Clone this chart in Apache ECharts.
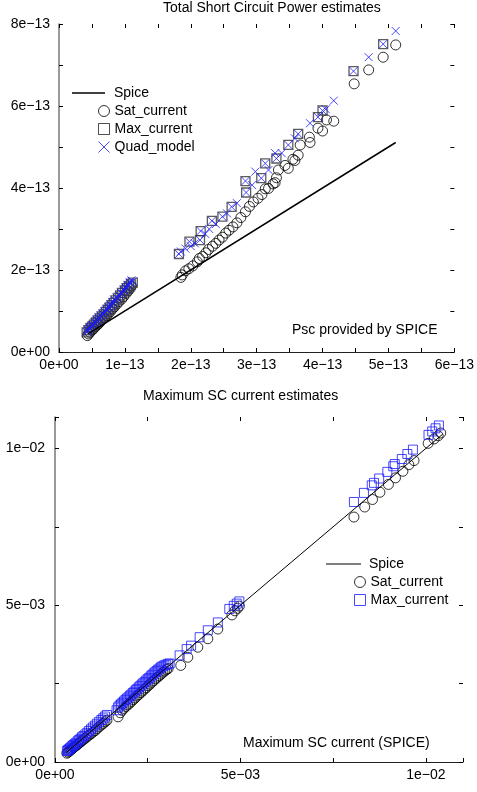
<!DOCTYPE html>
<html lang="en">
<head>
<meta charset="UTF-8">
<title>Short circuit estimates</title>
<script src="https://cdn.jsdelivr.net/npm/echarts@6/dist/echarts.min.js"></script>
<style>
  * { margin: 0; padding: 0; }
  body { background: #fff; }
  #chart { width: 477px; height: 792px; }
</style>
</head>
<body>
<div id="chart"></div>
<script>
// top chart values are in units of 1e-13 W, bottom chart in units of 1e-3 A

// tick labels
const powerXTicks = ['0e+00', '1e−13', '2e−13', '3e−13', '4e−13', '5e−13', '6e−13'];
const powerYTicks = ['0e+00', '2e−13', '4e−13', '6e−13', '8e−13'];
const currentTicks = ['0e+00', '5e−03', '1e−02'];

// --- Total short circuit power ---
const powerSpice = [[0.44, 0.44], [5.11, 5.11]];

const powerSat = [
  [0.43, 0.40], [0.45, 0.44], [0.47, 0.48], [0.50, 0.53], [0.52, 0.56], [0.55, 0.61],
  [0.58, 0.66], [0.60, 0.69], [0.63, 0.74], [0.66, 0.79], [0.69, 0.84], [0.72, 0.89],
  [0.75, 0.94], [0.78, 0.99], [0.81, 1.05], [0.84, 1.10], [0.88, 1.17], [0.91, 1.23],
  [0.95, 1.29], [0.98, 1.35], [1.02, 1.43], [1.05, 1.49], [1.08, 1.55], [1.10, 1.61],
  [1.85, 1.82], [1.87, 1.88], [1.92, 1.98], [1.97, 2.03], [2.03, 2.10], [2.10, 2.20],
  [2.13, 2.28], [2.18, 2.33], [2.23, 2.42], [2.27, 2.50], [2.33, 2.58], [2.38, 2.65],
  [2.43, 2.73], [2.48, 2.80], [2.53, 2.90], [2.58, 2.97], [2.64, 3.05], [2.70, 3.15],
  [2.76, 3.28], [2.83, 3.42], [2.89, 3.55], [2.95, 3.66], [3.02, 3.75], [3.08, 3.84],
  [3.13, 3.98], [3.18, 3.99], [3.25, 4.10], [3.28, 4.13], [3.30, 4.25], [3.33, 4.44],
  [3.43, 4.55], [3.48, 4.48], [3.55, 4.70], [3.58, 4.67], [3.63, 4.80], [3.66, 5.05],
  [3.81, 5.11], [3.80, 5.24], [3.93, 5.46], [4.00, 5.39], [4.06, 5.66], [4.17, 5.63],
  [4.48, 6.54], [4.70, 6.88], [4.92, 7.19], [5.11, 7.49]
];

const powerMax = [
  [0.42, 0.48], [0.45, 0.53], [0.48, 0.58], [0.50, 0.62], [0.53, 0.67], [0.56, 0.72],
  [0.59, 0.77], [0.62, 0.82], [0.65, 0.87], [0.68, 0.92], [0.71, 0.98], [0.74, 1.03],
  [0.77, 1.09], [0.80, 1.14], [0.83, 1.20], [0.86, 1.26], [0.90, 1.32], [0.93, 1.38],
  [0.96, 1.44], [1.00, 1.50], [1.03, 1.56], [1.06, 1.60], [1.09, 1.65], [1.12, 1.69],
  [1.82, 2.39], [1.98, 2.69], [2.14, 2.73], [2.15, 2.95], [2.32, 3.20], [2.48, 3.30],
  [2.62, 3.54], [2.84, 3.89], [2.83, 4.17], [3.07, 4.24], [3.13, 4.60], [3.30, 4.72],
  [3.48, 5.05], [3.63, 5.32], [3.93, 5.73], [4.00, 5.89], [4.47, 6.85], [4.92, 7.51]
];

const powerQuad = [
  [0.42, 0.49], [0.43, 0.55], [0.44, 0.52], [0.46, 0.60], [0.47, 0.57], [0.49, 0.61],
  [0.50, 0.66], [0.52, 0.66], [0.54, 0.73], [0.55, 0.71], [0.57, 0.79], [0.58, 0.76],
  [0.60, 0.84], [0.61, 0.81], [0.63, 0.89], [0.64, 0.86], [0.66, 0.94], [0.67, 0.91],
  [0.69, 0.99], [0.70, 0.97], [0.72, 1.05], [0.73, 1.02], [0.75, 1.10], [0.76, 1.08],
  [0.78, 1.16], [0.79, 1.13], [0.81, 1.22], [0.82, 1.19], [0.84, 1.28], [0.85, 1.25],
  [0.87, 1.33], [0.89, 1.31], [0.91, 1.39], [0.92, 1.37], [0.94, 1.45], [0.95, 1.43],
  [0.98, 1.52], [0.99, 1.49], [1.01, 1.58], [1.02, 1.55], [1.04, 1.64], [1.05, 1.62],
  [1.07, 1.71], [1.08, 1.68], [1.10, 1.75], [1.12, 1.72],
  [1.82, 2.39], [1.85, 2.45], [1.92, 2.52], [1.98, 2.69], [2.00, 2.58], [2.06, 2.65],
  [2.14, 2.73], [2.15, 2.95], [2.22, 2.88], [2.28, 3.00], [2.32, 3.20], [2.38, 3.12],
  [2.48, 3.30], [2.55, 3.38], [2.62, 3.54], [2.70, 3.63], [2.84, 3.89], [2.83, 4.17],
  [2.93, 4.07], [2.98, 4.40], [3.07, 4.24], [3.13, 4.60], [3.18, 4.44], [3.28, 4.85],
  [3.30, 4.72], [3.38, 4.85], [3.48, 5.05], [3.58, 5.21], [3.63, 5.32], [3.81, 5.58],
  [3.93, 5.73], [4.00, 5.89], [4.05, 5.92], [4.17, 6.13], [4.47, 6.85], [4.70, 7.19],
  [4.92, 7.51], [5.11, 7.83]
];

// --- Maximum SC current ---
const currentSpice = [[0.30, 0.30], [10.45, 10.45]];

const currentSat = [
  [0.32, 0.28], [0.35, 0.31], [0.38, 0.34], [0.41, 0.37], [0.44, 0.40], [0.47, 0.43],
  [0.50, 0.46], [0.53, 0.49], [0.57, 0.52], [0.61, 0.56], [0.65, 0.60], [0.69, 0.64],
  [0.73, 0.68], [0.77, 0.72], [0.82, 0.76], [0.87, 0.81], [0.92, 0.86], [0.97, 0.90],
  [1.02, 0.95], [1.08, 1.00], [1.13, 1.06], [1.19, 1.12], [1.25, 1.18], [1.30, 1.23],
  [1.35, 1.28], [1.40, 1.33],
  [1.70, 1.44], [1.76, 1.57], [1.81, 1.65], [1.86, 1.71], [1.91, 1.77], [1.96, 1.82],
  [2.01, 1.87], [2.06, 1.93], [2.11, 1.99], [2.16, 2.04], [2.21, 2.10], [2.26, 2.15],
  [2.31, 2.21], [2.36, 2.26], [2.41, 2.32], [2.46, 2.37], [2.51, 2.43], [2.56, 2.48],
  [2.61, 2.54], [2.66, 2.59], [2.71, 2.65], [2.76, 2.70], [2.81, 2.75], [2.86, 2.80],
  [2.91, 2.86], [2.96, 2.90], [3.01, 2.95], [3.05, 2.98],
  [3.39, 3.08], [3.58, 3.34], [3.85, 3.66], [4.12, 3.93], [4.39, 4.24], [4.77, 4.69],
  [4.85, 4.82], [4.92, 4.90], [4.97, 4.97],
  [8.06, 7.81], [8.35, 8.13], [8.56, 8.37], [8.76, 8.60], [8.99, 8.85], [9.18, 9.06],
  [9.38, 9.27], [9.54, 9.48], [9.68, 9.61], [10.06, 10.16], [10.22, 10.30], [10.33, 10.40],
  [10.40, 10.49]
];

const currentMax = [
  [0.32, 0.35], [0.35, 0.38], [0.38, 0.41], [0.41, 0.44], [0.44, 0.47], [0.47, 0.51],
  [0.50, 0.54], [0.53, 0.57], [0.57, 0.61], [0.61, 0.66], [0.65, 0.70], [0.69, 0.74],
  [0.73, 0.79], [0.77, 0.83], [0.82, 0.88], [0.87, 0.93], [0.92, 0.99], [0.97, 1.04],
  [1.02, 1.10], [1.08, 1.16], [1.13, 1.22], [1.19, 1.28], [1.25, 1.34], [1.30, 1.39],
  [1.35, 1.45], [1.40, 1.50],
  [1.66, 1.65], [1.70, 1.74], [1.74, 1.80], [1.78, 1.84], [1.82, 1.89], [1.86, 1.93],
  [1.90, 1.98], [1.94, 2.02], [1.98, 2.06], [2.02, 2.11], [2.06, 2.15], [2.10, 2.20],
  [2.14, 2.24], [2.18, 2.29], [2.22, 2.33], [2.26, 2.38], [2.30, 2.42], [2.34, 2.47],
  [2.38, 2.51], [2.42, 2.55], [2.46, 2.60], [2.50, 2.64], [2.54, 2.68], [2.58, 2.73],
  [2.62, 2.77], [2.66, 2.82], [2.70, 2.86], [2.74, 2.90], [2.78, 2.94], [2.82, 2.98],
  [2.86, 3.02], [2.90, 3.05], [2.95, 3.08], [3.00, 3.10], [3.05, 3.13], [3.09, 3.14],
  [3.36, 3.40], [3.55, 3.60], [3.67, 3.71], [3.90, 3.98], [4.12, 4.20], [4.39, 4.45],
  [4.70, 4.88], [4.82, 4.98], [4.90, 5.05], [4.97, 5.12],
  [8.06, 8.29], [8.33, 8.58], [8.54, 8.82], [8.60, 8.90], [8.74, 9.04], [8.96, 9.25],
  [9.12, 9.43], [9.16, 9.50], [9.35, 9.66], [9.50, 9.82], [9.65, 9.96], [10.07, 10.43],
  [10.17, 10.54], [10.26, 10.64], [10.35, 10.73]
];

const FONT = '"Liberation Sans", Arial, sans-serif';
const BLUE = '#1a1aff';
const CROSS = 'path://M0,0L10,10M10,0L0,10';
const CLEAR = 'rgba(0,0,0,0)';

function pick(labels, step) {
  return function (v) {
    const k = v / step;
    if (Math.abs(k - Math.round(k)) > 1e-6) return '';
    return labels[Math.round(k)] || '';
  };
}

const tickStyle = { show: true, inside: true, length: 4, lineStyle: { color: '#000', width: 1 } };
const labelStyle = { fontFamily: FONT, fontSize: 14, color: '#000' };

function bottomAxis(grid, max, interval, labels, step) {
  return {
    type: 'value', gridIndex: grid, position: 'bottom', min: 0, max: max, interval: interval,
    axisLine: { show: true, onZero: false, lineStyle: { color: '#222', width: 1 } },
    axisTick: tickStyle,
    axisLabel: Object.assign({ margin: 6, formatter: pick(labels, step), showMaxLabel: true, showMinLabel: true }, labelStyle),
    splitLine: { show: false }
  };
}
function leftAxis(grid, max, interval, labels, step, margin) {
  return {
    type: 'value', gridIndex: grid, position: 'left', min: 0, max: max, interval: interval,
    axisLine: { show: true, onZero: false, lineStyle: { color: '#777', width: 1.5 } },
    axisTick: tickStyle,
    axisLabel: Object.assign({ margin: margin, formatter: pick(labels, step), showMaxLabel: true, showMinLabel: true }, labelStyle),
    splitLine: { show: false }
  };
}
function frameAxis(grid, pos, max, interval) {
  return {
    type: 'value', gridIndex: grid, position: pos, min: 0, max: max, interval: interval,
    axisLine: { show: false, onZero: false },
    axisTick: tickStyle,
    axisLabel: { show: false },
    splitLine: { show: false }
  };
}

const lineIcon = { name: 'Spice', icon: 'rect', itemStyle: { color: '#000', borderWidth: 0 } };

const chart = echarts.init(document.getElementById('chart'));

chart.setOption({
  animation: false,
  backgroundColor: '#fff',
  title: [
    { text: 'Total Short Circuit Power estimates', left: 163, top: 1, padding: 0,
      textStyle: { fontFamily: FONT, fontSize: 14, fontWeight: 'normal', color: '#000' } },
    { text: 'Maximum SC current estimates', left: 143, top: 389, padding: 0,
      textStyle: { fontFamily: FONT, fontSize: 14, fontWeight: 'normal', color: '#000' } }
  ],
  grid: [
    { left: 59, top: 24, width: 398, height: 328 },
    { left: 55, top: 417, width: 408, height: 345 }
  ],
  xAxis: [
    bottomAxis(0, 6, 0.5, powerXTicks, 1),
    frameAxis(0, 'top', 6, 0.5),
    bottomAxis(1, 11, 2.5, currentTicks, 5),
    frameAxis(1, 'top', 11, 2.5)
  ],
  yAxis: [
    leftAxis(0, 8, 1, powerYTicks, 2, 9),
    frameAxis(0, 'right', 8, 1),
    leftAxis(1, 11, 2.5, currentTicks, 5, 10),
    frameAxis(1, 'right', 11, 2.5)
  ],
  legend: [
    { orient: 'vertical', left: 72, top: 86, padding: 0, itemWidth: 33, itemHeight: 1.3,
      data: [lineIcon], textStyle: Object.assign({ padding: [0, 0, 0, 4] }, labelStyle) },
    { orient: 'vertical', left: 98, top: 104, padding: 0, itemWidth: 11, itemHeight: 11, itemGap: 4,
      data: [
        { name: 'Sat_current', icon: 'circle', itemStyle: { color: CLEAR, borderColor: '#000', borderWidth: 1 } },
        { name: 'Max_current', icon: 'rect', itemStyle: { color: CLEAR, borderColor: '#222', borderWidth: 1 } },
        { name: 'Quad_model', icon: CROSS, itemStyle: { color: CLEAR, borderColor: BLUE, borderWidth: 1 } }
      ],
      textStyle: labelStyle },
    { orient: 'vertical', left: 326, top: 557, padding: 0, itemWidth: 35, itemHeight: 1.2,
      data: [lineIcon], textStyle: Object.assign({ padding: [0, 0, 0, 3] }, labelStyle) },
    { orient: 'vertical', left: 354, top: 575, padding: 0, itemWidth: 11, itemHeight: 11, itemGap: 4,
      data: [
        { name: 'Sat_current', icon: 'circle', itemStyle: { color: CLEAR, borderColor: '#000', borderWidth: 1 } },
        { name: 'Max_current', icon: 'rect', itemStyle: { color: CLEAR, borderColor: BLUE, borderWidth: 1 } }
      ],
      textStyle: labelStyle }
  ],
  graphic: [
    { type: 'text', x: 292, y: 330, style: { text: 'Psc provided by SPICE', font: '14px ' + FONT, fill: '#000', verticalAlign: 'middle' } },
    { type: 'text', x: 243, y: 743, style: { text: 'Maximum SC current (SPICE)', font: '14px ' + FONT, fill: '#000', verticalAlign: 'middle' } }
  ],
  series: [
    { name: 'Spice', type: 'line', xAxisIndex: 0, yAxisIndex: 0, data: powerSpice, symbol: 'none',
      lineStyle: { color: '#000', width: 1.5 } },
    { name: 'Sat_current', type: 'scatter', xAxisIndex: 0, yAxisIndex: 0, data: powerSat,
      symbol: 'circle', symbolSize: 10, itemStyle: { color: CLEAR, borderColor: '#000', borderWidth: 1 } },
    { name: 'Max_current', type: 'scatter', xAxisIndex: 0, yAxisIndex: 0, data: powerMax,
      symbol: 'rect', symbolSize: 9, itemStyle: { color: CLEAR, borderColor: '#333', borderWidth: 1.3 } },
    { name: 'Quad_model', type: 'scatter', xAxisIndex: 0, yAxisIndex: 0, data: powerQuad,
      symbol: CROSS, symbolSize: 8, itemStyle: { color: CLEAR, borderColor: BLUE, borderWidth: 1 } },

    { name: 'Spice', type: 'line', xAxisIndex: 2, yAxisIndex: 2, data: currentSpice, symbol: 'none',
      lineStyle: { color: '#000', width: 1 } },
    { name: 'Sat_current', type: 'scatter', xAxisIndex: 2, yAxisIndex: 2, data: currentSat,
      symbol: 'circle', symbolSize: 10, itemStyle: { color: CLEAR, borderColor: '#000', borderWidth: 1 } },
    { name: 'Max_current', type: 'scatter', xAxisIndex: 2, yAxisIndex: 2, data: currentMax,
      symbol: 'rect', symbolSize: 9, itemStyle: { color: CLEAR, borderColor: BLUE, borderWidth: 1 } }
  ]
});
</script>
</body>
</html>
